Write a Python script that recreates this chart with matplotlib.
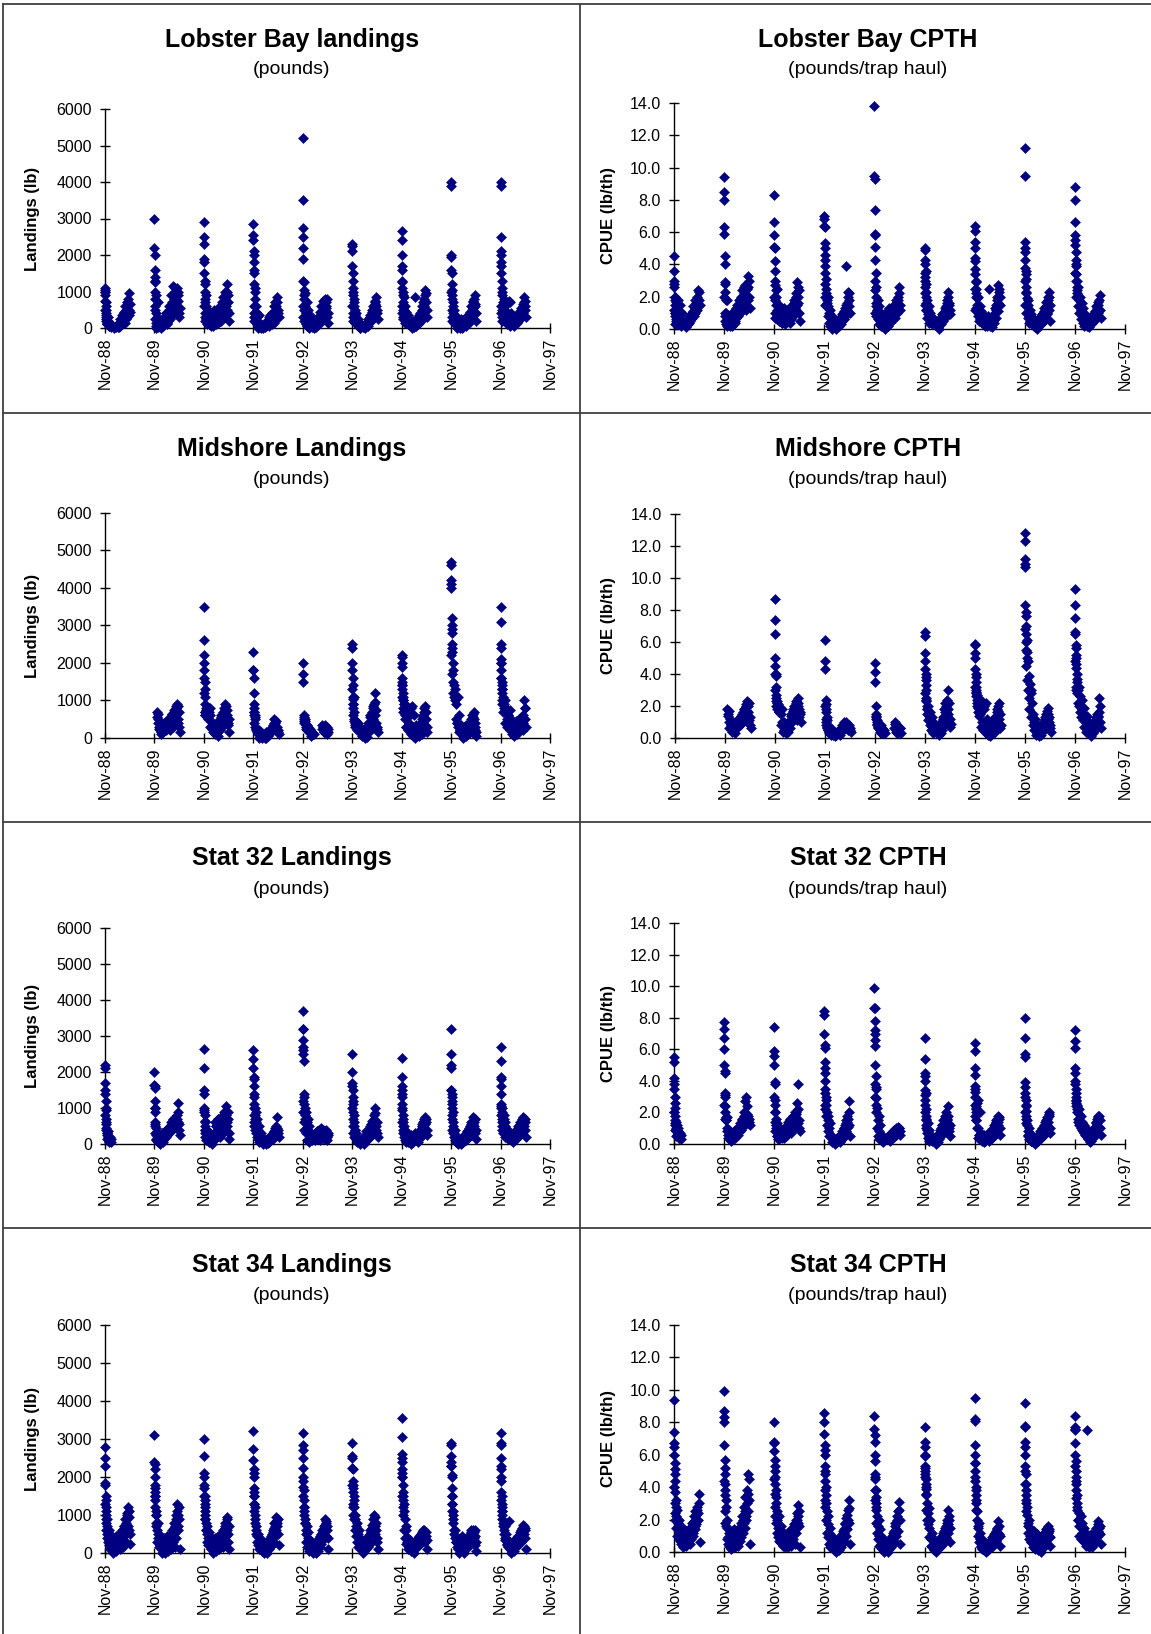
import datetime as dt
import matplotlib
matplotlib.use("Agg")
import matplotlib.pyplot as plt
from matplotlib.lines import Line2D

nan = float("nan")

# season opening dates (x ticks are at the opening date of each year)
SEASON_YEARS = [1988, 1989, 1990, 1991, 1992, 1993, 1994, 1995, 1996]
TICK_YEARS = list(range(1988, 1998))

# days after season opening for the first set of records of each season
SEASON_DAY = [0, 0, 1, 2, 3, 4, 5, 6, 8, 10, 12, 14,
              18, 24, 30, 36, 42, 48, 54, 60, 66, 72, 78, 84, 90, 96, 102, 108,
              114, 120, 126, 132, 138, 144, 150, 156, 162, 168, 174, 180, 187]
# days after season opening for the second set of records of each season
SEASON_DAY_B = [2, 5, 7, 9, 13, 21, 27, 33, 45, 57, 69, 81, 93, 105, 117, 129,
                141, 147, 153, 159, 165, 171, 177, 184]

# ---- Lobster Bay ----
LB_LAND = [
    [1100, 1050, 1000, 900, 750, 600, 500, 400, 300, 250, 200, 150, 100, 300, 60, 150, 40, nan, nan, nan, nan, nan, nan, 30, 80, 20, 150, 60, 250, 100, 350, 200, 450, 300, 600, 250, 700, 400, 950, 500, 650],
    [3000, 2200, 2000, 1600, 1400, 1250, 1000, 800, 600, 400, 150, 900, 300, 100, 700, 50, 200, 20, 100, 250, 50, 300, 150, 400, 100, 450, 200, 600, 300, 900, 400, 700, 1150, 500, 1100, 800, 1000, 600, 900, 300, 550],
    [2900, 2500, 2300, 1900, 1800, 1500, 1300, 1200, 1000, 800, 700, 900, 600, 200, 500, 100, 450, 300, 50, 400, 200, 500, 100, 350, 250, 450, 150, 500, 300, 600, 200, 700, 400, 850, 300, 1000, 600, 1200, 500, 900, 200],
    [2850, 2550, 2400, 2100, 2000, 1800, 1600, 1500, 1200, 1000, 800, 1100, 600, 450, 300, 150, 350, 50, 100, 0, 60, 20, 100, 30, 150, 50, 200, 100, 300, 150, 350, 250, 400, 300, 600, 200, 700, 450, 850, 500, 300],
    [5200, 3500, 2750, 2500, 2200, 1900, 1300, 1250, 1050, 900, 800, 950, 600, 400, 700, 250, 500, 150, 350, 100, 250, 50, 150, 0, 80, 30, 200, 100, 300, 150, 450, 250, 600, 350, 750, 400, 800, 550, 700, 300, 150],
    [2300, 2250, 2100, 1700, 1500, 1300, 1100, 1000, 900, 700, 600, 800, 500, 350, 400, 200, 250, 100, 50, 0, 100, nan, nan, 20, 50, 10, 100, 150, 50, 250, 150, 350, 200, 450, 300, 600, 400, 700, 850, 500, 250],
    [2650, 2400, 2000, 1700, 1600, 1300, 1250, 1100, 1000, 900, 700, 850, 500, 600, 300, 450, 200, 350, 100, 250, 50, 200, 0, 100, 30, 150, 850, 50, 200, 100, 300, 150, 400, 250, 600, 350, 800, 500, 1050, 700, 300],
    [4000, 3900, 2000, 1950, 1600, 1500, 1200, 1050, 900, 800, 600, 700, 400, 500, 250, 300, 100, 200, 50, 150, 0, 250, 80, 200, 30, 150, 250, 50, 300, 100, 350, 200, 450, 250, 600, 350, 700, 450, 900, 600, 200],
    [4000, 3900, 2500, 2100, 2000, 1800, 1700, 1500, 1300, 1100, 1000, 900, 700, 800, 500, 600, 300, 400, 150, 750, 700, 200, 400, 100, 250, 50, 200, 100, 300, 150, 350, 200, 450, 300, 550, 350, 650, 400, 850, 600, 300],
]
LB_LAND_B = [
    [500, 200, 700, 350, 100, 200, 50, 80, nan, nan, 0, 50, 100, 30, 150, 200, 400, 150, 500, 300, 600, 800, 350, 450],
    [1300, 500, 250, 50, 0, 150, 30, 100, 0, 200, 100, 300, 150, 500, 250, 600, 800, 400, 950, 600, 1100, 750, 1000, 400],
    [600, 400, 300, 200, 250, 100, 300, 200, 100, 300, 50, 300, 100, 400, 200, 500, 350, 600, 450, 800, 700, 1000, 700, 400],
    [600, 400, 300, 200, 300, 200, 100, 0, 20, 50, 0, 100, 50, 150, 50, 250, 100, 350, 150, 450, 350, 600, 700, 400],
    [600, 300, 500, 200, 300, 100, 500, 50, 0, 100, 30, 150, 50, 200, 100, 300, 200, 500, 300, 650, 400, 600, 800, 400],
    [600, 300, 400, 200, 300, 150, 200, 100, 50, 0, nan, 30, 50, 150, 100, 300, 200, 500, 350, 550, 650, 750, 600, 400],
    [600, 400, 300, 500, 250, 400, 150, 300, 100, 250, 50, 200, 100, 250, 150, 350, 200, 500, 300, 700, 600, 900, 950, 500],
    [1000, 500, 300, 200, 300, 150, 350, 100, 0, 50, 150, 0, 200, 100, 300, 150, 400, 250, 500, 550, 750, 800, 650, 400],
    [600, 400, 300, 500, 200, 500, 300, 200, 100, 300, 50, 150, 250, 100, 300, 200, 400, 250, 500, 350, 600, 700, 750, 500],
]
LB_CPTH = [
    [4.5, 3.6, 3.0, 2.8, 2.6, 2.0, 1.8, 1.5, 2.0, 1.0, 0.5, 1.7, 1.2, 0.3, 1.8, 0.8, 1.5, 0.5, 0.2, 1.0, 0.4, nan, nan, 0.1, 0.2, 0.3, 0.5, 0.4, 0.7, 0.5, 0.9, 0.7, 1.1, 0.9, 1.3, 1.0, 1.6, 1.2, 2.4, 1.8, 1.5],
    [9.4, 8.5, 8.0, 6.3, 5.9, 4.5, 4.0, 2.9, 2.8, 2.3, 1.8, 1.0, 0.5, 1.8, 0.3, 0.6, 0.2, 0.8, 0.3, 1.0, 0.5, 1.1, 0.4, 1.3, 0.7, 1.5, 0.8, 1.8, 1.0, 2.0, 1.2, 2.4, 1.5, 2.6, 1.8, 2.7, 1.2, 2.5, 3.3, 2.0, 1.3],
    [8.3, 6.6, 5.8, 5.1, 5.0, 4.2, 3.6, 3.0, 2.7, 2.4, 2.0, 1.5, 1.2, 2.5, 0.8, 1.5, 0.6, 1.2, 0.4, 1.0, 0.5, 1.3, 0.3, 1.1, 0.6, 1.2, 0.5, 0.9, 0.4, 1.3, 0.6, 1.5, 0.8, 1.8, 1.0, 2.2, 1.2, 2.9, 1.6, 2.4, 0.5],
    [7.0, 6.8, 6.4, 6.3, 5.3, 5.0, 4.6, 4.3, 3.9, 3.1, 2.5, 2.2, 1.8, 1.4, 2.0, 1.0, 1.2, 0.6, 0.8, 0.3, 0.5, 0.1, 0.3, 0.0, 0.2, 0.1, 0.4, 0.2, 0.6, 0.3, 0.8, 0.5, 1.0, 0.6, 1.3, 0.9, 3.9, 1.6, 2.3, 1.8, 1.0],
    [13.8, 9.5, 9.3, 7.4, 5.9, 5.8, 5.1, 4.3, 3.5, 2.6, 2.0, 1.6, 1.2, 1.8, 0.8, 1.4, 0.5, 1.0, 0.3, 0.6, 0.1, 0.4, 0.0, 0.3, 1.1, 0.2, 0.6, 1.3, 0.4, 0.9, 0.6, 1.2, 0.8, 1.5, 0.7, 1.8, 1.0, 2.0, 1.4, 2.6, 1.2],
    [5.0, 4.9, 4.3, 4.0, 3.5, 3.2, 3.0, 2.6, 2.3, 2.0, 1.6, 1.2, 1.8, 0.9, 1.4, 0.6, 1.0, 0.5, 0.3, 0.7, nan, nan, nan, nan, nan, 0.1, 0.4, 0.0, 0.6, 0.3, 0.8, 0.5, 1.0, 0.6, 1.3, 0.8, 1.6, 1.1, 2.3, 1.5, 0.9],
    [6.4, 6.1, 5.4, 5.0, 4.4, 4.2, 3.7, 3.4, 2.9, 2.5, 2.2, 1.9, 1.5, 2.0, 1.0, 1.4, 0.6, 1.1, 0.4, 0.9, 0.3, 0.7, 0.2, 0.6, 0.3, 0.8, 0.4, 2.5, 0.2, 0.6, 0.1, 0.5, 0.9, 0.4, 1.3, 0.7, 1.8, 1.1, 2.7, 2.3, 1.5],
    [11.2, 9.5, 5.4, 5.0, 4.8, 4.3, 3.8, 3.6, 3.1, 2.6, 2.3, 1.9, 1.4, 1.8, 0.8, 1.2, 0.5, 0.9, 0.3, 0.7, 0.2, 0.5, 0.1, 0.4, 0.0, 0.6, 0.2, 0.7, 0.3, 0.8, 0.4, 1.0, 0.5, 1.3, 0.7, 1.7, 0.9, 2.0, 2.3, 1.2, 0.5],
    [8.8, 8.0, 6.6, 5.8, 5.5, 5.2, 4.8, 4.3, 3.9, 3.4, 3.0, 2.6, 2.2, 2.6, 1.8, 2.0, 1.2, 1.6, 0.8, 1.3, 0.5, 0.9, 0.3, 0.7, 0.2, 0.6, 0.1, 0.5, 0.3, 0.7, 0.4, 0.9, 0.6, 1.1, 0.7, 1.4, 0.9, 1.7, 1.2, 2.1, 0.7],
]
LB_CPTH_B = [
    [1.2, 0.8, 0.3, 1.0, 0.6, 0.8, 0.3, 0.5, 0.9, 0.4, nan, 0.3, 0.6, 0.3, 0.8, 1.0, 1.4, 0.8, 1.8, 1.2, 2.0, 1.5, 1.8, 2.3],
    [2.0, 1.0, 0.5, 0.8, 0.3, 0.2, 0.6, 0.4, 0.7, 0.2, 0.9, 0.5, 1.1, 1.4, 1.6, 2.0, 1.3, 2.2, 1.6, 2.5, 2.0, 2.6, 1.8, 3.0],
    [2.0, 1.0, 1.8, 0.7, 1.0, 0.6, 0.9, 0.5, 0.8, 0.4, 0.9, 0.7, 1.0, 1.1, 1.0, 1.2, 0.9, 1.6, 1.3, 2.0, 1.5, 2.6, 2.0, 1.0],
    [2.8, 1.5, 3.5, 2.0, 1.4, 1.6, 0.8, 0.4, 0.2, 0.0, 0.1, 0.3, 0.5, 0.4, 0.7, 0.9, 0.6, 1.1, 0.8, 1.5, 1.2, 2.0, 1.4, 2.2],
    [2.4, 1.0, 3.0, 1.4, 0.8, 1.2, 0.6, 0.3, 0.2, 0.8, 0.1, 0.5, 0.3, 0.6, 1.0, 1.2, 0.8, 1.4, 1.0, 1.6, 1.2, 1.8, 2.2, 1.5],
    [2.2, 1.5, 3.6, 2.8, 1.2, 0.7, 1.2, 0.4, 0.8, 0.4, nan, nan, 0.3, 0.5, 0.7, 0.9, 0.7, 1.0, 1.4, 1.2, 1.8, 2.0, 1.6, 1.2],
    [2.5, 1.2, 3.0, 2.0, 1.3, 0.8, 1.2, 0.5, 0.8, 0.6, 0.3, 0.5, 0.2, 0.3, 0.6, 0.8, 0.6, 1.0, 1.5, 1.2, 2.0, 1.6, 2.5, 2.0],
    [3.0, 1.5, 3.4, 2.2, 1.0, 0.7, 1.5, 0.4, 0.6, 0.3, 0.2, 0.5, 0.3, 0.5, 0.7, 0.9, 1.1, 0.8, 1.4, 1.0, 1.6, 1.8, 2.0, 1.5],
    [3.5, 2.0, 4.0, 3.0, 2.4, 1.4, 2.0, 1.0, 0.6, 0.4, 0.2, 0.4, 0.2, 0.5, 0.6, 0.8, 0.5, 1.0, 0.8, 1.3, 1.0, 1.5, 1.8, 1.2],
]

# ---- Midshore ----
MID_LAND = [
    [],
    [nan, nan, nan, nan, nan, nan, nan, nan, nan, nan, nan, nan, 700, 500, 650, 300, 200, 100, 350, 250, 150, 400, 300, 200, 450, 250, 500, 350, 200, 550, 400, 650, 300, 750, 500, 850, 600, 900, 400, 700, 150],
    [3500, 2600, 2200, 2000, 1800, 1600, 1500, 1300, 1100, 700, 600, 800, 650, 750, 500, 700, 600, 800, 450, 350, 300, nan, 200, 100, 250, 150, 350, 50, 400, 200, 550, 300, 650, 450, 800, 900, 600, 750, 500, 400, 150],
    [2300, 1800, 1800, 1600, nan, nan, 900, 800, 700, 600, 500, 550, 250, nan, 200, 150, 200, 100, 150, 50, 0, 100, 50, 0, 30, 150, 100, 50, 150, 100, 200, 150, 300, 200, 500, 250, 400, 300, 200, 150, 100],
    [2000, 1700, 1500, nan, nan, nan, nan, nan, 600, 550, 450, 500, 400, 300, 350, 200, 300, 150, 250, 100, 150, 100, 100, 100, nan, nan, nan, nan, nan, nan, nan, nan, nan, 250, 300, 150, 350, 200, 250, 100, 150],
    [2500, 2400, 2000, 1800, 1600, 1400, 1100, 1050, 900, 700, 1100, 500, 400, 350, 450, 300, 400, 250, 200, 300, 150, 250, 100, 200, 50, 0, 100, 30, 200, 400, 300, 550, 200, 700, 500, 850, 600, 1200, 750, 300, 150],
    [2200, 2150, 2000, 1900, 1600, 1500, 1400, 1300, 1200, 1100, 1000, 700, 900, 500, 800, 300, 850, 200, 600, 150, 800, 100, 850, 50, 600, 200, 0, 350, 100, 250, 50, 300, 150, 400, 100, 550, 200, 800, 350, 700, 150],
    [4700, 4600, 4200, 4100, 4000, 3200, 3000, 2800, 2500, 2300, 2000, 1800, 1500, 1100, 1300, 900, 400, 1100, 300, 600, 200, 350, 100, 250, 0, 300, 150, 350, 50, 250, 100, 300, 150, 500, 200, 600, 300, 700, 400, 200, 50],
    [3500, 3100, 2500, 2400, 2100, 2000, 1800, 1600, 1500, 1400, 1300, 1200, 1100, 900, 1000, 700, 800, 500, 600, 300, 750, 200, 500, 100, 400, 50, 300, 150, 450, 100, 350, 200, 500, 250, 550, 300, 400, 200, 1000, 800, 300],
]
MID_LAND_B = [
    [],
    [nan, nan, nan, nan, nan, 550, 400, 250, 150, 350, 200, 300, 400, 350, 500, 650, 550, 700, 600, 800, 700, 850, 500, 300],
    [1200, 900, 700, 600, 750, 700, 550, 750, 300, 250, 150, 200, 300, 450, 400, 600, 700, 500, 650, 750, 850, 600, 350, 500],
    [1200, 700, 600, 400, 300, 200, 150, 100, 0, 50, 100, 50, 0, 100, 150, 250, 200, 350, 400, 300, 450, 250, 300, 200],
    [nan, nan, 500, 400, 450, 350, 250, 200, 150, 50, nan, nan, nan, nan, nan, nan, 350, 250, 300, 150, 300, 200, 300, 250],
    [1300, 900, 800, 600, 450, 300, 350, 200, 250, 150, 50, 150, 50, 250, 350, 600, 400, 650, 800, 900, 950, 600, 400, 250],
    [1400, 1100, 1000, 800, 700, 900, 600, 300, 700, 400, 650, 300, 150, 200, 250, 300, 400, 350, 500, 600, 700, 850, 500, 300],
    [2200, 1700, 2900, 2400, 1200, 1400, 1000, 500, 400, 150, 200, 100, 250, 200, 100, 250, 400, 300, 450, 550, 650, 500, 300, 150],
    [2000, 1600, 1300, 1000, 900, 700, 800, 400, 300, 600, 300, 250, 200, 300, 350, 450, 200, 500, 400, 500, 600, 300, 500, 800],
]
MID_CPTH = [
    [],
    [nan, nan, nan, nan, nan, nan, nan, nan, nan, nan, nan, nan, 1.8, 1.5, 1.7, 1.2, 0.8, 0.4, 1.0, 0.6, 0.8, 0.3, 0.9, 0.6, 1.1, 0.7, 1.2, 0.8, 1.4, 0.9, 1.5, 1.1, 1.8, 1.2, 2.0, 1.4, 2.3, 1.0, 2.2, 1.3, 0.6],
    [8.7, 7.4, 6.5, 5.0, 4.5, 4.0, 3.9, 3.2, 2.7, 2.3, 2.2, 2.0, 1.8, 2.1, 1.6, 1.9, 1.5, 1.8, 1.0, 0.9, 1.0, 0.8, 0.5, 0.3, 0.6, 0.4, 0.9, 0.6, 1.2, 1.5, 1.0, 1.8, 1.3, 2.0, 1.6, 2.2, 1.1, 2.5, 1.8, 1.5, 1.0],
    [6.1, 4.8, 4.3, nan, nan, nan, 2.4, 2.1, 1.8, 1.6, 1.3, 1.1, 0.6, 0.5, 0.7, 0.4, 0.6, 0.3, 0.5, 0.2, 0.4, 0.1, 0.3, 0.2, 0.4, 0.3, 0.5, 0.2, 0.6, 0.4, 0.8, 0.5, 1.0, 0.7, 0.9, 0.6, 0.8, 0.5, 0.7, 0.6, 0.4],
    [4.7, 4.1, 3.5, nan, nan, 2.0, nan, nan, 1.4, 1.2, 1.0, 0.8, 1.1, 0.7, 0.9, 0.5, 0.8, 0.4, 0.6, 0.3, 0.5, 0.3, nan, nan, nan, nan, nan, nan, nan, nan, nan, nan, nan, 1.0, 0.5, 0.8, 0.3, 0.7, 0.4, 0.6, 0.3],
    [6.6, 6.4, 5.3, 4.8, 4.3, 3.8, 3.6, 3.0, 2.5, 2.4, 2.0, 1.8, 1.5, 2.0, 1.2, 1.6, 1.0, 1.3, 0.7, 1.0, 0.6, 0.9, 0.4, 0.7, 0.3, 0.6, 0.2, 0.5, 0.3, 0.8, 0.5, 1.2, 0.8, 1.6, 1.0, 2.0, 1.4, 3.0, 2.2, 1.2, 0.9],
    [5.9, 5.8, 5.3, 5.0, 4.3, 4.0, 3.8, 3.5, 3.2, 2.9, 2.7, 2.4, 2.2, 1.9, 2.4, 1.5, 2.2, 1.0, 2.3, 0.8, 2.0, 0.6, 2.2, 0.4, 1.2, 0.3, 0.8, 0.1, 0.5, 0.2, 0.6, 0.3, 1.0, 0.4, 1.3, 0.6, 1.8, 0.9, 2.2, 1.5, 0.8],
    [12.8, 12.3, 11.2, 10.9, 10.7, 8.3, 7.9, 7.6, 7.0, 6.5, 6.1, 5.4, 5.0, 4.8, 3.9, 3.4, 3.0, 2.8, 2.2, 1.5, 1.0, 1.2, 0.6, 0.9, 0.3, 0.7, 0.1, 0.5, 0.2, 0.8, 0.4, 1.0, 0.5, 1.2, 0.7, 1.5, 0.9, 1.9, 1.3, 0.8, 0.4],
    [9.3, 8.3, 7.5, 6.6, 6.5, 5.8, 5.6, 5.2, 5.0, 4.6, 4.0, 3.7, 3.5, 3.0, 3.2, 2.6, 2.0, 2.4, 1.8, 1.5, 1.9, 1.2, 1.0, 1.4, 0.8, 0.5, 1.0, 0.3, 0.8, 0.1, 0.6, 0.3, 0.9, 0.5, 1.2, 0.7, 1.5, 1.0, 2.5, 2.0, 0.6],
]
MID_CPTH_B = [
    [],
    [nan, nan, nan, nan, nan, 1.4, 1.0, 0.6, 0.9, 0.5, 0.8, 0.9, 1.0, 1.2, 1.3, 1.6, 1.8, 1.5, 2.1, 1.7, 2.0, 1.6, 1.1, 0.8],
    [3.0, 2.5, 4.0, 2.0, 2.3, 2.0, 1.7, 1.6, 0.8, 0.4, 0.5, 0.6, 0.8, 1.0, 1.4, 1.7, 2.0, 1.9, 2.3, 1.4, 2.0, 2.2, 1.3, 1.6],
    [2.0, 1.2, 0.8, 1.0, 0.7, 0.5, 0.4, 0.3, 0.2, 0.3, 0.4, 0.2, 0.3, 0.5, 0.6, 0.7, 0.9, 0.8, 1.0, 0.7, 0.9, 0.6, 0.8, 0.5],
    [nan, nan, 1.5, 1.3, 0.9, 0.6, 0.7, 0.4, 0.3, 0.4, nan, nan, nan, nan, nan, nan, 0.6, 0.9, 0.4, 0.8, 0.5, 0.7, 0.4, 0.6],
    [2.8, 2.3, 4.0, 3.3, 1.8, 1.1, 1.4, 0.8, 0.5, 0.3, 0.5, 0.4, 0.3, 0.6, 1.0, 1.3, 1.8, 2.2, 1.6, 2.4, 1.8, 1.5, 1.0, 0.7],
    [3.2, 3.0, 2.8, 2.6, 2.0, 1.6, 2.1, 1.4, 0.7, 0.5, 1.8, 0.3, 0.2, 0.4, 0.5, 0.7, 0.9, 1.1, 1.4, 1.6, 2.0, 1.7, 1.2, 0.6],
    [6.8, 5.5, 6.0, 4.5, 3.6, 3.0, 2.5, 1.8, 1.3, 0.8, 0.5, 0.2, 0.6, 0.3, 0.5, 0.8, 1.0, 1.3, 1.1, 1.7, 1.5, 1.2, 1.0, 0.6],
    [4.8, 4.4, 3.2, 3.0, 2.8, 2.2, 2.0, 1.6, 1.3, 1.1, 0.7, 0.4, 0.6, 0.3, 0.5, 0.7, 0.9, 1.1, 1.3, 1.0, 1.4, 1.3, 1.6, 1.0],
]

# ---- Stat 32 ----
S32_LAND = [
    [2200, 2100, 1700, 1500, 1400, 1000, 950, 600, 550, 450, 300, 250, 150, 350, 100, 200, 50, 150],
    [2000, 1650, 1600, 1550, 1200, 1000, 900, 600, 550, 450, 300, 250, 100, 200, 50, 150, 0, 100, 250, 50, 300, 150, 350, 200, 400, 250, 450, 300, 500, 350, 600, 400, 700, 450, 650, 500, 550, 700, 1150, 550, 250],
    [2650, 2100, 1500, 1400, 1000, 950, 800, 650, 500, 400, 300, 200, 350, 100, 250, 50, 300, 150, 200, 0, nan, 100, 300, 150, 500, 250, 700, 350, 600, 200, 750, 400, 650, 300, 800, 450, 1050, 600, 350, 700, 150],
    [2600, 2350, 2100, 1850, 1800, 1600, 1400, 1300, 1100, 1000, 800, 700, 900, 600, 700, 400, 500, 250, 300, 100, 200, 0, nan, nan, 50, 0, 100, 20, 150, 50, 200, 100, 250, 150, 350, 200, 450, 300, 750, 400, 200],
    [3700, 3200, 3200, 2900, 2700, 2600, 2500, 2300, 1400, 1300, 1100, 1000, 800, 900, 600, 700, 400, 500, 200, 300, 100, nan, nan, nan, 100, 250, 150, 350, 200, 400, 100, 300, 450, 250, 400, 150, 350, 200, 300, 100, 250],
    [2500, 2000, 1700, 1600, 1500, 1300, 1200, 1100, 900, 800, 600, 500, 400, 200, 300, 100, 150, 50, 100, 0, nan, nan, 50, 0, 100, 50, 200, 100, 300, 150, 400, 200, 550, 300, 650, 350, 700, 1000, 500, 600, 200],
    [2400, 1850, 1600, 1500, 1400, 1300, 1000, 950, 800, 700, 600, 500, 400, 250, 350, 150, 300, 50, 200, 100, 250, 0, 150, 50, 250, 100, 300, 150, 200, 50, 300, 150, 400, 200, 550, 300, 700, 450, 750, 600, 250],
    [3200, 2500, 2200, 2100, 1500, 1400, 1300, 1200, 1100, 1000, 900, 600, 500, 300, 400, 100, 200, 0, 100, 50, 150, 0, 100, 30, 200, 80, 250, 100, 300, 150, 400, 200, 500, 250, 600, 350, 750, 500, 700, 300, 150],
    [2700, 2300, 1850, 1800, 1600, 1400, 1100, 1050, 1000, 900, 800, 700, 600, 800, 500, 600, 300, 400, 200, 350, 150, 300, 100, 250, 50, 200, 100, 300, 150, 350, 200, 450, 250, 550, 300, 650, 400, 750, 500, 700, 200],
]
S32_LAND_B = [
    [800, 400, 1200, 700, 300, 200, 100, 50],
    [1000, 500, 300, 100, 150, 300, 200, 100, 200, 300, 250, 350, 400, 450, 500, 550, 600, 700, 650, 450, 800, 600, 900, 400],
    [900, 600, 400, 200, 100, 200, 400, 100, 250, 50, nan, 600, 500, 700, 600, 700, 500, 900, 650, 700, 800, 500, 900, 300],
    [1000, 800, 600, 500, 400, 300, 200, 150, 50, 100, 50, nan, 50, 150, 100, 250, 200, 300, 250, 400, 350, 500, 450, 300],
    [1200, 900, 600, 400, 700, 300, 600, 100, 50, nan, nan, nan, 250, 350, 400, 300, 200, 400, 300, 350, 250, 400, 200, 300],
    [1000, 700, 500, 300, 200, 400, 150, 50, 80, 30, nan, 150, 250, 350, 400, 500, 450, 650, 500, 800, 600, 850, 400, 300],
    [1100, 600, 400, 300, 500, 200, 100, 50, 150, 200, 100, 150, 250, 100, 200, 300, 350, 450, 500, 600, 650, 550, 700, 400],
    [1500, 800, 700, 400, 300, 200, 100, 50, 100, 50, 150, 100, 200, 250, 350, 450, 300, 550, 400, 650, 550, 600, 700, 400],
    [1000, 800, 600, 400, 500, 300, 700, 200, 250, 150, 200, 150, 250, 300, 400, 500, 350, 600, 450, 700, 550, 650, 600, 400],
]
S32_CPTH = [
    [5.5, 5.2, 4.2, 3.8, 3.5, 2.6, 2.3, 1.8, 1.5, 1.2, 1.0, 0.8, 1.4, 0.6, 1.0, 0.4, 0.7, 0.3, 0.6],
    [7.7, 7.3, 6.7, 6.0, 5.0, 4.6, 4.5, 3.2, 3.1, 2.4, 1.7, 1.5, 1.7, 1.0, 0.6, 0.9, 0.3, 0.7, 0.2, 0.5, 0.3, 0.8, 0.4, 0.9, 0.5, 1.0, 0.6, 1.1, 0.8, 1.2, 0.9, 1.5, 1.1, 1.8, 2.7, 1.4, 3.0, 1.9, 1.3, 1.6, 1.2],
    [7.4, 5.9, 5.6, 5.0, 3.9, 3.8, 2.8, 2.5, 2.0, 1.6, 1.2, 1.0, 0.5, 1.3, 0.3, 1.1, 0.6, 0.9, 0.4, 0.7, nan, 0.4, 1.0, 0.5, 1.2, 0.6, 1.4, 0.8, 1.6, 0.7, 1.3, 0.9, 1.8, 1.0, 2.0, 1.2, 2.0, 2.6, 3.8, 1.5, 0.8],
    [8.4, 8.2, 7.0, 6.3, 6.1, 5.2, 4.8, 4.5, 4.0, 3.0, 2.8, 2.5, 2.0, 1.5, 1.8, 1.0, 1.3, 0.6, 0.4, nan, nan, 0.2, 0.0, 0.3, 0.1, 0.4, 0.2, 0.5, 0.1, 0.6, 0.3, 0.8, 0.4, 1.0, 0.6, 1.3, 0.8, 1.8, 1.1, 2.7, 0.5],
    [9.9, 8.6, 8.6, 7.8, 7.2, 7.0, 6.6, 6.2, 4.3, 3.6, 3.5, 2.9, 2.3, 1.5, 1.8, 0.8, 1.2, 0.4, 0.6, 0.1, nan, nan, nan, nan, nan, nan, 0.3, 0.6, 0.2, 0.7, 0.4, 0.8, 0.5, 0.9, 0.6, 1.0, 0.7, 1.1, 0.8, 1.0, 0.6],
    [6.7, 5.4, 4.5, 4.3, 4.0, 3.4, 3.1, 2.5, 2.2, 1.8, 1.5, 1.2, 0.9, 1.3, 0.5, 0.9, 0.3, 0.6, 0.2, nan, nan, nan, nan, 0.0, 0.4, 0.1, 0.6, 0.3, 0.9, 0.5, 1.2, 0.7, 1.5, 0.9, 1.8, 1.1, 1.6, 2.4, 1.3, 0.8, 0.5],
    [6.4, 5.9, 4.8, 4.4, 3.7, 3.5, 3.3, 2.5, 2.3, 2.0, 1.5, 1.0, 2.6, 2.8, 0.6, 2.0, 0.3, 0.7, 0.2, 0.5, 0.1, 0.6, 0.2, 0.5, 0.3, 0.7, 0.2, 0.6, 0.3, 0.8, 0.4, 1.0, 0.5, 1.2, 0.7, 1.5, 0.9, 1.8, 1.2, 1.6, 0.6],
    [8.0, 6.7, 5.7, 5.5, 3.9, 3.6, 3.2, 2.8, 2.5, 2.1, 1.8, 1.5, 1.2, 0.6, 1.0, 0.3, 0.7, 0.2, 0.5, 0.1, 0.4, 0.0, 0.3, 0.1, 0.5, 0.2, 0.6, 0.3, 0.8, 0.4, 1.0, 0.5, 1.2, 0.6, 1.4, 0.8, 1.6, 1.0, 1.8, 2.0, 0.7],
    [7.2, 6.5, 6.1, 4.8, 4.5, 3.8, 3.5, 3.0, 2.8, 2.6, 2.4, 2.2, 2.0, 1.6, 2.2, 1.2, 1.8, 0.9, 1.4, 0.8, 1.2, 0.6, 1.0, 0.5, 0.9, 0.3, 0.7, 0.1, 0.5, 0.2, 0.8, 0.4, 1.0, 0.6, 1.3, 0.8, 1.6, 1.8, 1.1, 1.5, 0.6],
]
S32_CPTH_B = [
    [2.0, 1.3, 3.0, 0.9, 0.5, 1.2, 0.8, 0.4, 0.5],
    [2.5, 1.6, 3.0, 2.0, 1.5, 0.8, 0.4, 0.6, 0.4, 0.5, 0.7, 0.8, 0.9, 1.0, 1.3, 1.6, 1.2, 2.0, 1.5, 1.8, 2.4, 1.5, 1.8, 1.4],
    [3.0, 2.0, 1.4, 0.8, 1.2, 0.5, 0.8, 0.3, 0.6, 0.8, 0.6, 1.0, 1.1, 1.2, 1.5, 1.2, 1.5, 1.6, 1.4, 1.9, 1.6, 1.3, 2.2, 1.0],
    [3.5, 2.5, 3.2, 2.2, 1.8, 1.2, 0.8, 0.5, nan, 0.1, 0.3, 0.2, 0.4, 0.3, 0.5, 0.7, 0.9, 1.0, 1.2, 1.5, 1.4, 1.6, 2.0, 1.2],
    [5.0, 3.8, 3.0, 2.0, 2.5, 1.0, 0.5, 0.3, 0.4, 0.2, nan, nan, nan, 0.4, 0.6, 0.7, 0.9, 0.5, 0.8, 0.6, 0.9, 0.7, 1.0, 0.8],
    [2.8, 2.0, 3.2, 1.6, 1.0, 0.7, 0.4, 0.2, 0.5, nan, nan, 0.3, 0.5, 0.7, 1.0, 1.2, 0.8, 1.4, 1.0, 2.0, 1.5, 1.8, 1.0, 1.2],
    [3.0, 1.8, 2.2, 1.5, 2.4, 1.0, 0.4, 0.6, 0.3, 0.4, 0.3, 0.4, 0.5, 0.6, 0.8, 0.9, 1.0, 1.1, 1.3, 1.4, 1.6, 1.4, 1.7, 1.0],
    [3.0, 2.0, 2.4, 1.6, 1.3, 0.8, 0.5, 0.3, 0.2, 0.3, 0.2, 0.3, 0.4, 0.5, 0.6, 0.9, 1.1, 1.0, 1.5, 1.2, 1.7, 1.4, 1.9, 1.0],
    [4.0, 3.2, 2.7, 2.4, 2.5, 1.4, 1.9, 1.2, 1.0, 0.8, 0.7, 0.6, 0.4, 0.3, 0.5, 0.7, 0.9, 1.1, 1.4, 1.2, 1.7, 1.5, 1.8, 1.0],
]

# ---- Stat 34 ----
S34_LAND = [
    [2800, 2500, 2300, 1850, 1800, 1500, 1400, 1200, 1000, 800, 700, 500, 900, 300, 600, 100, 400, 200, 450, 0, 300, 150, 450, 50, 350, 200, 500, 100, 400, 250, 600, 150, 700, 350, 900, 500, 1050, 1200, 600, 950, 250],
    [3100, 2400, 2350, 2200, 2000, 1800, 1600, 1500, 1400, 1100, 1000, 700, 600, 800, 400, 500, 200, 350, 0, 250, 100, 400, 0, 300, 150, 450, 50, 350, 200, 500, 100, 600, 300, 800, 150, 1000, 400, 1300, 700, 900, 100],
    [3000, 2550, 2100, 2000, 1800, 1700, 1500, 1400, 1300, 1100, 900, 800, 600, 700, 400, 550, 200, 450, 100, 350, 0, 300, 150, 400, 50, 350, 200, 450, 100, 400, 250, 500, 150, 600, 300, 800, 450, 950, 600, 300, 100],
    [3200, 2750, 2450, 2200, 2100, 1700, 1600, 1500, 1300, 1200, 1000, 800, 600, 700, 450, 500, 300, 400, 150, 300, 50, 250, 0, 200, 100, 300, 0, 250, 100, 350, 150, 450, 200, 600, 300, 800, 450, 950, 700, 900, 200],
    [3150, 2850, 2700, 2500, 2250, 1900, 1750, 1650, 1400, 1200, 1100, 900, 800, 600, 700, 400, 550, 250, 350, 100, 300, 0, 200, 50, 250, 0, 150, 300, 50, 400, 150, 500, 250, 600, 350, 700, 900, 450, 850, 600, 100],
    [2900, 2550, 2500, 2250, 2200, 1900, 1800, 1700, 1600, 1500, 1400, 1200, 900, 1000, 700, 800, 500, 600, 250, 400, 100, 300, 0, 200, 50, 300, 100, 350, 150, 450, 200, 600, 300, 750, 400, 900, 1000, 500, 800, 300, 100],
    [3550, 3050, 2600, 2500, 2400, 2200, 2100, 2000, 1800, 1600, 1500, 1300, 1100, 900, 600, 700, 300, 400, 150, 350, 50, 300, 100, 250, 0, 300, 100, 350, 150, 400, 200, 450, 250, 500, 300, 600, 400, 550, 300, 450, 100],
    [2900, 2850, 2550, 2400, 2300, 2050, 2000, 1700, 1500, 1300, 1100, 1000, 800, 500, 600, 300, 400, 100, 250, 0, 350, 100, 450, 200, 300, 0, 250, 100, 350, 150, 400, 200, 500, 250, 600, 300, 550, 400, 600, 200, 50],
    [3150, 2900, 2850, 2500, 2300, 2000, 1900, 1600, 1500, 1200, 1100, 1000, 800, 600, 700, 400, 500, 250, 350, 850, 100, 300, 0, 250, 100, 350, 50, 300, 150, 400, 200, 450, 250, 550, 300, 650, 400, 750, 500, 650, 100],
]
S34_LAND_B = [
    [1300, 900, 1100, 600, 400, 500, 200, 300, 150, 350, 200, 400, 300, 250, 450, 500, 700, 600, 800, 900, 1000, 700, 1100, 500],
    [1700, 1200, 1500, 1000, 800, 300, 500, 150, 350, 200, 300, 100, 400, 250, 450, 500, 650, 400, 700, 900, 1100, 1000, 600, 1200],
    [1500, 1200, 1000, 900, 600, 500, 300, 200, 250, 100, 300, 200, 350, 300, 400, 450, 550, 400, 650, 700, 800, 900, 500, 700],
    [2000, 1500, 1300, 1100, 900, 500, 300, 200, 100, 150, 50, 200, 150, 250, 300, 400, 500, 550, 650, 700, 850, 600, 800, 500],
    [2000, 1500, 1200, 1000, 800, 500, 300, 150, 50, 100, 100, 200, 250, 300, 350, 450, 500, 550, 650, 600, 750, 800, 700, 400],
    [1800, 1300, 1200, 1000, 900, 600, 450, 300, 150, 200, 100, 150, 250, 300, 350, 500, 550, 650, 600, 800, 700, 950, 600, 400],
    [2000, 1500, 1400, 1200, 1000, 600, 400, 250, 100, 200, 150, 200, 250, 300, 350, 300, 450, 400, 550, 500, 600, 450, 550, 350],
    [2300, 1500, 1300, 1100, 900, 600, 400, 300, 150, 300, 200, 150, 200, 300, 250, 450, 350, 550, 450, 600, 500, 550, 450, 300],
    [2200, 1400, 1300, 1100, 900, 700, 500, 350, 200, 150, 200, 150, 250, 300, 350, 450, 400, 500, 600, 550, 650, 700, 600, 400],
]
S34_CPTH = [
    [9.4, 7.4, 6.7, 6.5, 6.0, 5.5, 5.1, 4.8, 4.4, 3.7, 3.2, 2.8, 2.2, 2.6, 1.8, 2.0, 1.2, 1.6, 0.5, 1.3, 0.3, 1.1, 0.6, 1.3, 0.4, 1.2, 0.7, 1.4, 0.5, 1.5, 0.8, 1.8, 1.0, 2.2, 1.4, 2.5, 1.7, 2.8, 2.0, 3.6, 0.6],
    [9.9, 8.7, 8.3, 8.0, 6.6, 5.7, 5.2, 4.8, 4.2, 3.8, 3.2, 2.8, 2.0, 1.5, 0.5, 1.2, 0.3, 1.0, 0.2, 1.3, 0.5, 1.4, 0.3, 1.1, 0.6, 1.3, 0.4, 1.5, 0.7, 1.8, 0.9, 2.2, 1.2, 2.8, 1.5, 3.4, 2.0, 3.8, 4.8, 4.5, 0.5],
    [8.0, 6.8, 6.7, 6.2, 5.7, 5.3, 5.0, 4.6, 4.2, 3.8, 3.4, 3.0, 2.5, 2.0, 1.5, 2.2, 1.0, 1.6, 0.6, 1.3, 0.4, 1.1, 0.3, 0.9, 0.5, 1.2, 0.3, 1.0, 0.6, 1.3, 0.4, 1.5, 0.8, 1.7, 0.5, 2.0, 1.2, 2.4, 2.9, 1.6, 0.3],
    [8.6, 8.0, 7.3, 6.6, 6.3, 6.0, 5.3, 5.0, 4.4, 4.0, 3.5, 3.0, 2.5, 1.7, 2.2, 1.2, 1.5, 0.6, 1.0, 0.3, 0.8, 0.1, 0.6, 0.0, 0.5, 0.2, 0.8, 0.1, 0.6, 0.3, 1.0, 0.5, 1.3, 0.7, 1.7, 1.0, 2.1, 1.4, 2.6, 3.2, 0.5],
    [8.4, 7.6, 7.2, 6.8, 6.0, 5.6, 4.8, 4.5, 3.8, 3.4, 3.0, 2.6, 2.2, 1.6, 2.0, 1.0, 1.4, 0.5, 0.9, 0.2, 0.7, 0.0, 0.5, 0.1, 0.6, 0.0, 0.4, 0.2, 0.7, 0.3, 0.9, 0.5, 1.2, 0.7, 1.6, 1.0, 2.0, 1.3, 2.5, 3.1, 0.5],
    [7.7, 6.8, 6.5, 6.0, 5.9, 5.3, 5.0, 4.8, 4.5, 4.2, 3.9, 3.5, 3.0, 2.4, 2.7, 1.5, 2.0, 0.8, 1.2, 0.3, 0.8, 0.1, 0.6, 0.0, 0.5, 0.2, 0.7, 0.3, 0.8, 0.4, 1.0, 0.5, 1.2, 0.7, 1.5, 0.9, 1.8, 1.2, 2.6, 2.0, 0.6],
    [9.5, 8.2, 8.1, 6.6, 6.0, 5.5, 5.0, 4.6, 4.0, 3.5, 3.0, 2.5, 2.0, 1.5, 1.8, 0.8, 1.2, 0.4, 0.8, 0.2, 0.6, 0.1, 0.5, 0.0, 0.4, 0.1, 0.6, 0.2, 0.7, 0.3, 0.8, 0.4, 1.0, 0.5, 1.2, 0.7, 1.4, 0.9, 1.9, 1.1, 0.4],
    [9.2, 7.8, 7.7, 6.8, 6.5, 6.0, 5.3, 4.8, 4.2, 3.8, 3.2, 2.8, 2.3, 1.8, 2.0, 1.0, 1.5, 0.6, 1.2, 0.3, 1.3, 0.2, 0.9, 0.4, 1.1, 0.1, 0.8, 0.3, 0.6, 0.0, 0.5, 1.0, 0.3, 1.2, 0.6, 1.4, 0.8, 1.6, 1.0, 1.3, 0.4],
    [8.4, 7.7, 7.6, 7.5, 6.7, 6.0, 5.6, 5.0, 4.6, 4.2, 3.5, 3.0, 2.6, 2.0, 2.4, 1.6, 2.2, 1.2, 1.8, 0.9, 1.5, 0.6, 1.2, 0.4, 7.5, 1.0, 0.3, 0.8, 0.5, 1.1, 0.3, 0.9, 0.5, 1.2, 0.7, 1.5, 0.9, 1.9, 1.2, 1.6, 0.5],
]
S34_CPTH_B = [
    [4.0, 3.0, 2.4, 2.0, 1.5, 1.0, 1.4, 0.8, 0.7, 0.9, 0.6, 1.0, 0.8, 1.1, 1.3, 1.6, 1.2, 1.9, 1.6, 2.3, 2.0, 2.6, 2.4, 3.0],
    [4.4, 3.5, 2.5, 1.8, 1.6, 0.8, 0.9, 0.4, 0.8, 0.6, 0.9, 0.5, 1.0, 1.1, 1.3, 1.6, 2.0, 1.8, 2.5, 2.2, 3.0, 3.6, 2.5, 3.2],
    [4.5, 3.6, 2.8, 2.2, 1.8, 1.2, 0.9, 0.7, 0.6, 0.7, 0.5, 0.8, 0.6, 0.9, 1.0, 1.2, 1.4, 1.1, 1.8, 1.5, 2.0, 1.8, 2.2, 2.5],
    [4.8, 3.8, 3.2, 2.8, 2.0, 1.2, 0.9, 0.5, 0.3, 0.4, 0.3, 0.5, 0.4, 0.7, 0.9, 1.1, 1.4, 1.2, 1.8, 1.5, 2.3, 2.0, 2.7, 1.8],
    [4.6, 3.8, 3.2, 2.8, 1.8, 1.2, 0.8, 0.4, 0.3, 0.2, 0.3, 0.4, 0.5, 0.5, 0.8, 1.0, 1.3, 1.1, 1.8, 1.4, 2.2, 1.9, 2.6, 2.0],
    [5.2, 4.6, 4.0, 3.6, 2.6, 2.0, 1.7, 0.9, 0.4, 0.3, 0.2, 0.4, 0.5, 0.6, 0.8, 1.0, 1.3, 1.1, 1.6, 1.4, 2.0, 1.7, 2.2, 1.5],
    [5.5, 4.4, 3.8, 3.2, 2.6, 1.6, 1.0, 0.6, 0.3, 0.2, 0.3, 0.4, 0.5, 0.6, 0.7, 0.9, 1.1, 0.8, 1.3, 1.0, 1.5, 1.2, 1.6, 1.0],
    [5.0, 4.2, 3.5, 3.0, 2.5, 1.6, 1.2, 0.8, 0.6, 0.9, 0.5, 0.7, 0.4, 0.8, 0.6, 0.9, 1.1, 0.8, 1.3, 1.0, 1.5, 1.2, 1.4, 0.9],
    [5.3, 4.4, 3.8, 3.3, 2.8, 2.0, 1.6, 1.0, 0.8, 0.7, 0.9, 0.6, 0.8, 0.5, 0.7, 0.9, 1.0, 1.2, 1.1, 1.4, 1.3, 1.7, 1.5, 1.1],
]

W, H = 1151, 1634
NAVY = "#000080"
plt.rcParams["font.family"] = ["Liberation Sans", "DejaVu Sans"]


def px_rect(left, top, right, bottom):
    return [left / W, 1 - bottom / H, (right - left) / W, (bottom - top) / H]


def season_points(seasons, days):
    xs, ys = [], []
    for yr, vals in zip(SEASON_YEARS, seasons):
        assert len(vals) <= len(days)
        start = dt.date(yr, 11, 28)
        for d, v in zip(days, vals):
            if v == v:
                xs.append(start + dt.timedelta(days=d))
                ys.append(v)
    return xs, ys


def draw_panel(ax, seasons, seasons_b, cpue):
    xa, ya = season_points(seasons, SEASON_DAY)
    xb, yb = season_points(seasons_b, SEASON_DAY_B)
    ax.plot(xa + xb, ya + yb, "D", color=NAVY, ms=4.6, mew=0.4, mec=NAVY,
            clip_on=False, zorder=3)

    ticks = [dt.date(y, 11, 28) for y in TICK_YEARS]
    ax.set_xlim(ticks[0], ticks[-1])
    ax.set_xticks(ticks)
    ax.set_xticklabels([f"Nov-{y % 100:02d}" for y in TICK_YEARS],
                       rotation=90, fontsize=11.5)
    if cpue:
        ax.set_ylim(0, 14)
        yt = [0, 2, 4, 6, 8, 10, 12, 14]
        ax.set_yticks(yt)
        ax.set_yticklabels([f"{v:.1f}" for v in yt], fontsize=11.5)
    else:
        ax.set_ylim(0, 6000)
        yt = [0, 1000, 2000, 3000, 4000, 5000, 6000]
        ax.set_yticks(yt)
        ax.set_yticklabels([str(v) for v in yt], fontsize=11.5)
    for s in ("top", "right"):
        ax.spines[s].set_visible(False)
    for s in ("left", "bottom"):
        ax.spines[s].set_linewidth(1.0)
    ax.tick_params(direction="inout", length=7, width=1.0, colors="black")
    ax.tick_params(axis="y", pad=6)
    ax.tick_params(axis="x", pad=3.5)
    ax.patch.set_alpha(0)


fig = plt.figure(figsize=(W / 100, H / 100), dpi=100)

# title rows (title y, subtitle y) and column centres in pixels
ROW_Y = [(40, 70), (449, 479), (858, 890), (1265, 1295)]
COL_X = [292, 868]
YLAB_X = [33, 608]

panels = [
    (LB_LAND, LB_LAND_B, "Lobster Bay landings", False, (105, 109, 550, 328)),
    (LB_CPTH, LB_CPTH_B, "Lobster Bay CPTH", True, (674, 103, 1125, 329)),
    (MID_LAND, MID_LAND_B, "Midshore Landings", False, (105, 513, 550, 738)),
    (MID_CPTH, MID_CPTH_B, "Midshore CPTH", True, (675, 514, 1125, 738)),
    (S32_LAND, S32_LAND_B, "Stat 32 Landings", False, (105, 928, 550, 1144)),
    (S32_CPTH, S32_CPTH_B, "Stat 32 CPTH", True, (674, 923, 1125, 1144)),
    (S34_LAND, S34_LAND_B, "Stat 34 Landings", False, (105, 1325, 550, 1553)),
    (S34_CPTH, S34_CPTH_B, "Stat 34 CPTH", True, (674, 1325, 1125, 1552)),
]

for i, (data, data_b, title, cpue, box) in enumerate(panels):
    row, col = divmod(i, 2)
    ax = fig.add_axes(px_rect(*box))
    draw_panel(ax, data, data_b, cpue)
    ty, sy = ROW_Y[row]
    fig.text(COL_X[col] / W, 1 - ty / H, title, ha="center", va="center",
             fontsize=18, fontweight="bold")
    fig.text(COL_X[col] / W, 1 - sy / H,
             "(pounds/trap haul)" if cpue else "(pounds)",
             ha="center", va="center", fontsize=14)
    ymid = (box[1] + box[3]) / 2
    fig.text(YLAB_X[col] / W, 1 - ymid / H,
             "CPUE (lb/th)" if cpue else "Landings (lb)",
             ha="center", va="center", rotation=90, fontsize=12, fontweight="bold")

# panel frame lines
frame = dict(color="#404040", lw=1.3)
fig.add_artist(Line2D([3 / W, 1], [1 - 4 / H, 1 - 4 / H], **frame))
fig.add_artist(Line2D([3 / W, 3 / W], [0, 1 - 4 / H], **frame))
fig.add_artist(Line2D([580 / W, 580 / W], [0, 1 - 4 / H], **frame))
for yy in (413, 822, 1228):
    fig.add_artist(Line2D([3 / W, 1], [1 - yy / H, 1 - yy / H], **frame))

fig.savefig("out.png", dpi=100)
